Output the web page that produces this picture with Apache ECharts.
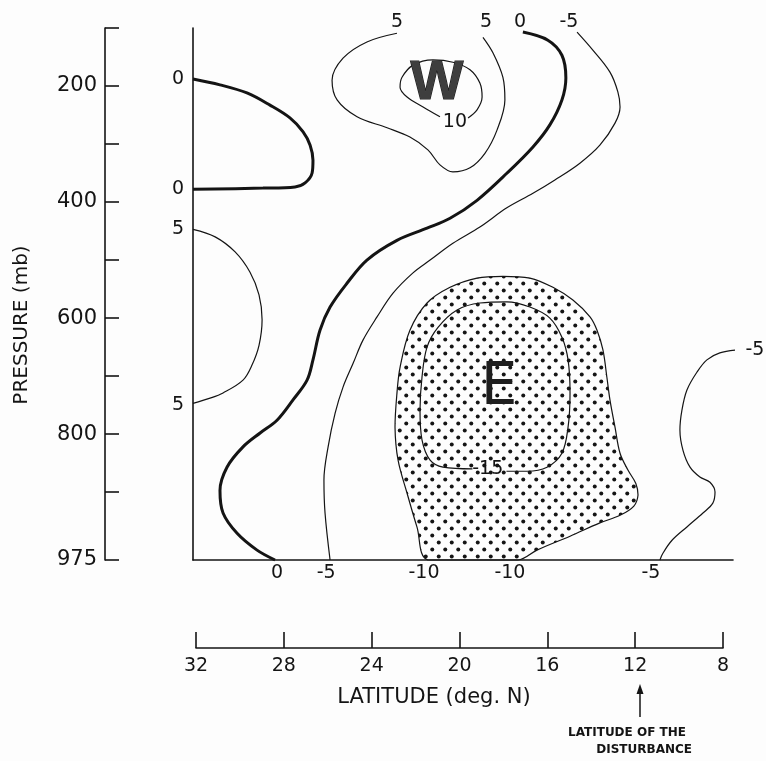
<!DOCTYPE html>
<html><head><meta charset="utf-8">
<script src="https://cdn.jsdelivr.net/npm/echarts@6/dist/echarts.min.js"></script>
<style>html,body{margin:0;padding:0;background:#fdfdfd}#c{width:766px;height:761px}#err{position:absolute;left:200px;top:100px;font:12px monospace;color:red;white-space:pre-wrap;width:540px}</style>
</head><body><div id="c"></div><div id="err"></div>
<script>
// ---------------- data (latitude deg N, pressure mb on the printed scale) ----------------
const latitudeTicks = [32, 28, 24, 20, 16, 12, 8];
const pressureTickLevels = [100, 200, 300, 400, 500, 600, 700, 800, 900, 975];
const pressureLabelLevels = [200, 400, 600, 800, 975];
// the 975-mb level is drawn lower than a linear scale would put it (printed value 1017)
const surfacePrinted = 1017;

const zeroUpperLobe = [[32.14,188],[30.91,198],[29.68,212],[28.63,233],[27.72,255],[27.12,279],[26.80,302],[26.67,328],[26.71,350],[27.03,367],[27.49,374],[28.95,376],[32.14,378]];
const zeroMain = [[28.40,1017],[29.22,1000],[30.13,971],[30.77,936],[30.91,897],[30.59,857],[29.86,822],[29.08,798],[28.31,776],[27.58,741],[26.94,707],[26.67,672],[26.35,621],[25.89,581],[25.12,540],[24.21,500],[22.84,466],[21.47,445],[20.42,428],[19.19,397],[17.82,350],[16.64,305],[15.87,267],[15.32,224],[15.14,186],[15.32,147],[15.96,121],[17.10,107]];
const plusFiveLeft = [[32.14,447],[31.13,460],[30.22,486],[29.54,521],[29.13,560],[28.99,603],[29.13,647],[29.45,681],[29.86,707],[30.77,729],[31.36,738],[32.14,747]];
const plusFiveW = [[22.84,109],[24.21,124],[25.30,152],[25.80,190],[25.57,224],[24.66,253],[23.29,272],[22.25,288],[21.43,310],[20.88,336],[20.29,348],[19.51,341],[18.83,316],[18.28,276],[17.92,224],[18.01,185],[18.46,143],[18.92,116]];
const plusTenW = [[20.88,253],[21.65,236],[22.38,219],[22.70,202],[22.61,185],[22.11,164],[21.20,155],[20.29,159],[19.51,172],[19.06,195],[18.96,219],[19.19,241],[19.60,255]];
const minusFiveLong = [[14.63,107],[13.91,138],[13.13,176],[12.77,210],[12.67,236],[12.90,264],[13.59,302],[14.50,333],[15.64,362],[16.64,385],[17.83,410],[19.06,443],[20.29,471],[21.33,500],[22.11,522],[23.02,557],[23.75,598],[24.39,638],[24.84,678],[25.30,719],[25.66,764],[25.98,822],[26.17,879],[26.12,936],[25.89,1017]];
const minusTenShade = [[21.43,1017],[21.93,960],[22.38,902],[22.79,845],[22.93,788],[22.84,729],[22.70,685],[22.25,621],[21.47,574],[20.42,547],[19.19,531],[18.01,528],[16.78,531],[15.73,547],[14.82,569],[14.04,598],[13.72,621],[13.45,655],[13.27,702],[13.13,741],[12.90,788],[12.67,833],[12.31,862],[11.95,885],[11.85,905],[12.04,924],[12.67,940],[13.59,953],[14.95,976],[16.46,1000],[17.32,1017]];
const minusFifteen = [[19.40,860],[20.74,857],[21.33,845],[21.70,810],[21.79,759],[21.70,702],[21.47,650],[20.97,616],[20.10,586],[19.06,574],[17.83,572],[16.78,581],[15.87,600],[15.32,633],[15.04,672],[14.95,729],[15.04,788],[15.32,833],[16.00,857],[16.91,864],[17.85,864]];
const minusFiveRight = [[7.34,655],[8.12,660],[8.71,672],[9.16,693],[9.62,724],[9.85,759],[9.94,793],[9.80,828],[9.48,857],[9.03,874],[8.57,883],[8.34,900],[8.44,919],[8.89,936],[9.62,960],[10.30,983],[10.71,1005],[10.85,1017]];
const contourLabels = [
  [32.82,188,'0'],[32.82,378,'0'],[32.82,447,'5'],[32.82,750,'5'],
  [22.84,90,'5'],[18.78,90,'5'],[17.23,90,'0'],[15.0,90,'-5'],
  [28.31,1040,'0'],[26.07,1040,'-5'],[21.61,1040,'-10'],[17.69,1040,'-10'],[11.26,1040,'-5'],
  [6.52,655,'-5'],[20.20,262,'10'],[18.70,860,'-15']
];
const centreLetters = [[21.02,195,'W'],[18.19,722,'E']];

// ---------------- chart ----------------
const INK = '#141414';
const BG = '#fdfdfd';
const FONT = "'DejaVu Sans', sans-serif";
const printed = p => (p === 975 ? surfacePrinted : p);
const tickVals = pressureTickLevels.map(printed);
const labelVals = pressureLabelLevels.map(printed);

const tile = document.createElement('canvas');
tile.width = 13; tile.height = 14;
const g = tile.getContext('2d');
g.fillStyle = INK;
[[3.25,3.5],[9.75,10.5]].forEach(([x,y]) => { g.beginPath(); g.arc(x, y, 2.0, 0, Math.PI*2); g.fill(); });

function contourLine(name, pts, width) {
  return {
    name, type: 'line', xAxisIndex: 0, yAxisIndex: 0, data: pts, clip: false,
    symbol: 'none', smooth: 0.35, silent: true, z: 3,
    lineStyle: { color: INK, width: width }
  };
}
const errBox = document.getElementById('err');
const chart = echarts.init(document.getElementById('c'), null, { renderer: 'canvas' });
const option = {
  backgroundColor: BG,
  animation: false,
  textStyle: { fontFamily: FONT, color: INK },
  grid: [
    { left: 193, right: 33, top: 28, bottom: 201 },
    { left: 196, right: 43, top: 600, bottom: 113 }
  ],
  xAxis: [
    { gridIndex: 0, type: 'value', min: 7.52, max: 32.14, inverse: true,
      axisLine: { show: true, onZero: false, lineStyle: { color: INK, width: 1.6 } },
      axisTick: { show: false }, axisLabel: { show: false }, splitLine: { show: false } },
    { gridIndex: 1, type: 'value', min: 8, max: 32, interval: 4, inverse: true,
      axisLine: { show: true, onZero: false, lineStyle: { color: INK, width: 1.6 } },
      axisTick: { show: true, inside: true, length: 16, lineStyle: { color: INK, width: 1.6 } },
      axisLabel: { margin: 9, fontSize: 19, color: INK, fontFamily: FONT },
      splitLine: { show: false } }
  ],
  yAxis: [
    { gridIndex: 0, type: 'value', min: 100, max: surfacePrinted, inverse: true,
      axisLine: { show: true, onZero: false, lineStyle: { color: INK, width: 1.6 } },
      axisTick: { show: false }, axisLabel: { show: false }, splitLine: { show: false } },
    { gridIndex: 0, type: 'value', position: 'left', offset: 88, min: 100, max: surfacePrinted, inverse: true,
      axisLine: { show: true, onZero: false, lineStyle: { color: INK, width: 1.6 } },
      axisTick: { show: true, inside: true, length: 14, customValues: tickVals, lineStyle: { color: INK, width: 1.6 } },
      axisLabel: { customValues: labelVals, margin: 8, fontSize: 21, color: INK, fontFamily: FONT,
        formatter: v => String(pressureLabelLevels[labelVals.indexOf(v)] ?? v) },
      splitLine: { show: false } },
    { gridIndex: 1, type: 'value', show: false }
  ],
  graphic: [
    { type: 'text', x: 22, y: 325, rotation: Math.PI / 2,
      style: { text: 'PRESSURE (mb)', font: "20px 'DejaVu Sans'", fill: INK, align: 'center', verticalAlign: 'middle' } },
    { type: 'text', x: 434, y: 698,
      style: { text: 'LATITUDE (deg. N)', font: "21px 'DejaVu Sans'", fill: INK, align: 'center', verticalAlign: 'middle' } },
    { type: 'line', shape: { x1: 640, y1: 717, x2: 640, y2: 690 }, style: { stroke: INK, lineWidth: 1.5 } },
    { type: 'polygon', shape: { points: [[640,684],[636.5,694],[643.5,694]] }, style: { fill: INK } },
    { type: 'text', x: 627, y: 733,
      style: { text: 'LATITUDE OF THE', font: "bold 12px 'DejaVu Sans'", fill: INK, align: 'center', verticalAlign: 'middle' } },
    { type: 'text', x: 692, y: 750,
      style: { text: 'DISTURBANCE', font: "bold 12px 'DejaVu Sans'", fill: INK, align: 'right', verticalAlign: 'middle' } }
  ],
  series: [
    { name: 'minus10', type: 'custom', xAxisIndex: 0, yAxisIndex: 0, clip: false, silent: true, z: 2,
      data: [[20, 700]],
      renderItem: (params, api) => {
        const pts = minusTenShade.map(p => api.coord(p));
        const xs = pts.map(p => p[0]), ys = pts.map(p => p[1]);
        return {
          type: 'polygon',
          shape: { points: pts, smooth: 0.35,
            smoothConstraint: [[Math.min(...xs), Math.min(...ys)], [Math.max(...xs), Math.max(...ys)]] },
          style: { fill: { image: tile, repeat: 'repeat' }, stroke: INK, lineWidth: 1.2 }
        };
      } },
    contourLine('zeroUpper', zeroUpperLobe, 3),
    contourLine('zeroMain', zeroMain, 3),
    contourLine('plus5Left', plusFiveLeft, 1.2),
    contourLine('plus5W', plusFiveW, 1.2),
    contourLine('plus10W', plusTenW, 1.2),
    contourLine('minus5Long', minusFiveLong, 1.2),
    contourLine('minus15', minusFifteen, 1.2),
    contourLine('minus5Right', minusFiveRight, 1.2),
    { name: 'labels', type: 'scatter', xAxisIndex: 0, yAxisIndex: 0, clip: false, silent: true, z: 5,
      symbolSize: 1, itemStyle: { color: BG, opacity: 1 },
      data: contourLabels.map(([x, y, t]) => ({ value: [x, y], name: t })),
      label: { show: true, position: 'inside', formatter: p => p.name, fontSize: 19, color: INK,
        fontFamily: FONT, textBorderWidth: 0, opacity: 1 } },
    { name: 'letters', type: 'scatter', xAxisIndex: 0, yAxisIndex: 0, clip: false, silent: true, z: 6,
      symbolSize: 1, itemStyle: { color: BG, opacity: 1 },
      data: centreLetters.map(([x, y, t]) => ({
        value: [x, y], name: t,
        label: t === 'W'
          ? { fontSize: 56, fontWeight: 'bold', fontFamily: "'Liberation Sans Narrow','Liberation Sans',sans-serif", color: '#3e3e3e', textBorderColor: '#1a1a1a', textBorderWidth: 1.2 }
          : { fontSize: 58, fontFamily: FONT, color: '#1e1e1e', textBorderWidth: 0 }
      })),
      label: { show: true, position: 'inside', formatter: p => p.name, opacity: 1 } }
  ]
};
try { chart.setOption(option); } catch (e) { errBox.textContent = e.message + '\n' + (e.stack || '').slice(0, 400); }
</script></body></html>
